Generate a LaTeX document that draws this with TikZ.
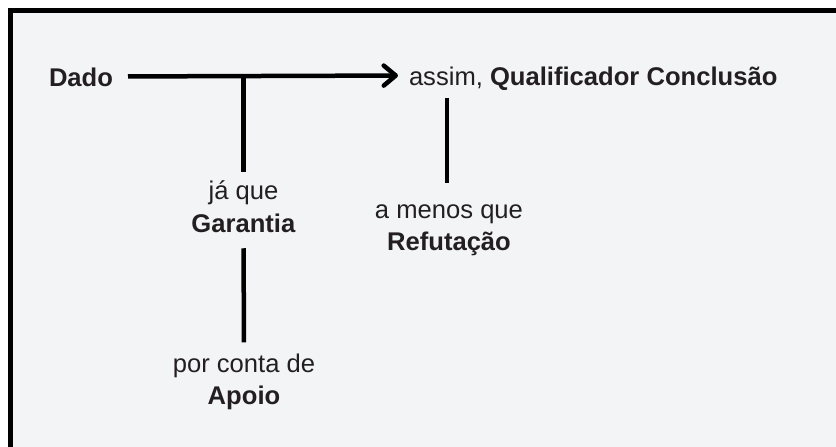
\documentclass[tikz,border=0pt]{standalone}
\usepackage{fontspec}
\setmainfont{Liberation Sans}
\usetikzlibrary{arrows.meta}
\definecolor{bgc}{HTML}{F3F4F6}
\definecolor{txt}{HTML}{231F20}
\begin{document}
\begin{tikzpicture}[x=1pt,y=-1pt,
  lbl/.style={font=\fontsize{25.6}{32}\selectfont, text=txt, inner sep=0pt, outer sep=0pt, align=center},
  onel/.style={lbl, text height=19pt, text depth=0pt},
  conn/.style={line width=4.5pt, draw=black},
  arr/.style={conn, -{Straight Barb[length=12pt,width=20pt,round]}},
]
\useasboundingbox (0,0) rectangle (836,447);
\fill[white] (0,0) rectangle (836,447);
\draw[line width=5pt, fill=bgc] (10.8,10.8) rectangle (860,470);

\node[onel, anchor=base east] (dado) at (113,86) {\textbf{Dado}};
\node[onel, anchor=base west] (concl) at (409,85) {assim, \textbf{Qualificador Conclusão}};
\node[lbl, anchor=base] (garantia) at (243.5,232) {já que\\[1pt]\textbf{Garantia}};
\node[lbl, anchor=base] (apoio) at (244,404) {por conta de\\\textbf{Apoio}};
\node[lbl, anchor=base] (refut) at (449,250) {a menos que\\\textbf{Refutação}};

\coordinate (j) at (dado.east -| garantia.north);
\coordinate (q) at (concl.south -| 447,0);

\draw[arr, shorten <=15pt, shorten >=11pt] (dado.east) -- (concl.west);
\draw[conn, shorten >=8pt] (j) -- (garantia.north);
\draw[conn, shorten <=16pt, shorten >=11pt] (garantia.south) -- (apoio.north);
\draw[conn, shorten <=13pt, shorten >=21pt] (q) -- (q |- refut.north);
\end{tikzpicture}
\end{document}
